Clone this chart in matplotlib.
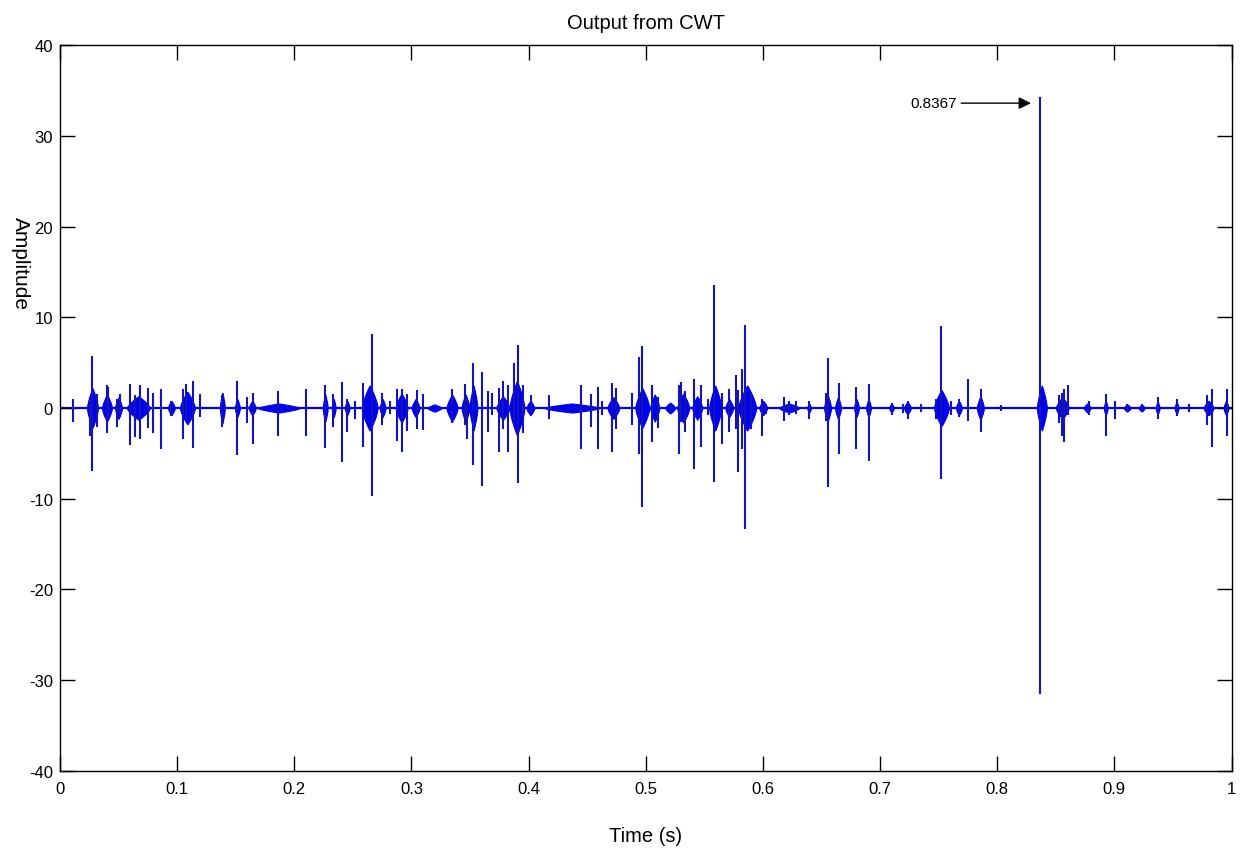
import matplotlib
matplotlib.use("Agg")
import matplotlib.pyplot as plt
import numpy as np

plt.rcParams["axes.unicode_minus"] = False

# isolated spikes of the CWT output: time (s), positive peak, negative peak
spike_t = [0.0111, 0.0256, 0.0273, 0.0315, 0.0401, 0.0409, 0.0486, 0.0512, 0.0597, 0.0639,
           0.0682, 0.0750, 0.0793, 0.0861, 0.0946, 0.1049, 0.1074, 0.1134, 0.1194, 0.1381,
           0.1509, 0.1594, 0.1645, 0.1858, 0.2097, 0.2259, 0.2327, 0.2404, 0.2447, 0.2515,
           0.2583, 0.2660, 0.2745, 0.2813, 0.2873, 0.2916, 0.2958, 0.3043, 0.3095, 0.3342,
           0.3453, 0.3478, 0.3529, 0.3598, 0.3649, 0.3683, 0.3751, 0.3785, 0.3828, 0.3879,
           0.3905, 0.3956, 0.4024, 0.4177, 0.4450, 0.4535, 0.4595, 0.4629, 0.4714, 0.4749,
           0.4885, 0.4945, 0.4970, 0.5055, 0.5107, 0.5217, 0.5286, 0.5303, 0.5337, 0.5413,
           0.5473, 0.5533, 0.5584, 0.5652, 0.5712, 0.5772, 0.5789, 0.5823, 0.5848, 0.5899,
           0.5993, 0.6029, 0.6181, 0.6223, 0.6283, 0.6394, 0.6539, 0.6556, 0.6650, 0.6794,
           0.6905, 0.7101, 0.7195, 0.7238, 0.7349, 0.7477, 0.7519, 0.7604, 0.7673, 0.7749,
           0.7860, 0.8031, 0.8367, 0.8525, 0.8551, 0.8568, 0.8602, 0.8781, 0.8926, 0.9003,
           0.9105, 0.9233, 0.9369, 0.9531, 0.9633, 0.9787, 0.9829, 0.9957]
spike_hi = [1.0, 1.2, 5.7, 1.5, 2.5, 2.3, 1.0, 1.5, 2.6, 1.4,
            2.5, 2.2, 1.7, 2.1, 0.8, 2.1, 2.6, 3.0, 1.5, 1.4,
            3.0, 1.2, 1.7, 1.9, 2.1, 2.5, 1.5, 2.9, 1.0, 0.8,
            2.8, 8.2, 1.7, 0.8, 2.1, 2.1, 1.5, 2.0, 1.5, 2.1,
            2.6, 1.0, 5.0, 4.0, 1.9, 1.7, 2.2, 3.0, 2.5, 5.0,
            6.9, 2.5, 1.4, 1.4, 2.5, 1.5, 2.3, 0.8, 2.8, 2.2,
            1.7, 5.6, 6.8, 2.5, 1.2, 0.6, 2.5, 2.9, 1.9, 3.2,
            2.5, 1.0, 13.6, 1.7, 2.1, 3.6, 2.0, 4.3, 9.2, 1.7,
            1.0, 0.4, 1.2, 0.8, 0.8, 0.8, 1.7, 5.5, 2.8, 2.3,
            2.6, 0.6, 0.4, 0.8, 0.4, 1.0, 9.0, 0.8, 1.0, 3.2,
            2.1, 0.3, 34.3, 1.4, 1.7, 2.1, 2.5, 0.8, 1.5, 0.8,
            0.4, 0.4, 1.2, 1.0, 0.4, 1.4, 2.1, 2.1]
spike_lo = [-1.5, -3.1, -6.9, -2.1, -2.7, -1.0, -2.1, -1.0, -4.1, -3.2,
            -3.4, -2.2, -2.8, -4.5, -0.9, -3.4, -1.2, -4.4, -1.0, -2.1,
            -5.2, -1.6, -4.0, -3.1, -3.1, -4.4, -2.1, -6.0, -2.6, -1.2,
            -4.3, -9.7, -1.9, -0.7, -3.6, -4.8, -2.5, -2.3, -2.4, -1.6,
            -1.9, -3.4, -6.3, -8.6, -2.6, -0.8, -4.8, -2.3, -4.8, -1.9,
            -8.3, -2.7, -0.8, -1.2, -4.5, -2.1, -4.5, -0.8, -4.9, -2.3,
            -1.9, -5.1, -10.9, -3.8, -2.2, -0.7, -5.1, -1.5, -2.6, -6.7,
            -4.3, -0.8, -8.1, -4.0, -2.6, -2.3, -7.0, -4.5, -13.3, -2.3,
            -3.1, -0.7, -1.4, -0.8, -0.7, -1.2, -1.4, -8.7, -5.1, -4.5,
            -5.8, -0.8, -0.5, -1.2, -0.4, -1.2, -7.8, -0.8, -1.0, -1.4,
            -2.6, -0.3, -31.5, -1.6, -3.1, -3.8, -0.8, -0.8, -3.1, -1.2,
            -0.4, -0.4, -1.2, -0.9, -0.4, -1.9, -4.3, -3.1]

# dense oscillation bursts: start (s), end (s), envelope amplitude
burst_start = [0.0230, 0.0358, 0.0469, 0.0571, 0.0921, 0.1023, 0.1364, 0.1492, 0.1611, 0.1688,
               0.2242, 0.2319, 0.2430, 0.2575, 0.2728, 0.2864, 0.3001, 0.3137, 0.3299, 0.3427,
               0.3495, 0.3725, 0.3836, 0.3981, 0.4135, 0.4672, 0.4910, 0.5038, 0.5166, 0.5268,
               0.5396, 0.5541, 0.5678, 0.5789, 0.5968, 0.6138, 0.6377, 0.6522, 0.6615, 0.6777,
               0.6880, 0.7076, 0.7204, 0.7460, 0.7647, 0.7826, 0.8338, 0.8500, 0.8738, 0.8909,
               0.9079, 0.9207, 0.9352, 0.9514, 0.9761, 0.9932]
burst_end = [0.0324, 0.0443, 0.0529, 0.0767, 0.0980, 0.1151, 0.1407, 0.1535, 0.1671, 0.2046,
             0.2285, 0.2353, 0.2472, 0.2711, 0.2779, 0.2967, 0.3069, 0.3257, 0.3393, 0.3495,
             0.3563, 0.3836, 0.3964, 0.4049, 0.4604, 0.4774, 0.5030, 0.5115, 0.5251, 0.5371,
             0.5482, 0.5644, 0.5746, 0.5942, 0.6036, 0.6309, 0.6411, 0.6581, 0.6667, 0.6820,
             0.6922, 0.7118, 0.7263, 0.7587, 0.7698, 0.7886, 0.8423, 0.8610, 0.8798, 0.8943,
             0.9139, 0.9258, 0.9386, 0.9548, 0.9847, 0.9974]
burst_amp = [2.2, 1.5, 1.2, 1.3, 0.8, 1.8, 1.7, 1.0, 0.8, 0.5,
             1.5, 1.0, 0.8, 2.5, 1.0, 1.6, 1.0, 0.4, 1.5, 1.5,
             2.5, 1.3, 3.0, 0.8, 0.5, 1.2, 2.2, 1.5, 0.6, 1.6,
             1.3, 2.5, 1.0, 2.5, 0.8, 0.5, 0.5, 1.5, 1.2, 1.0,
             1.0, 0.5, 0.7, 2.0, 0.8, 1.3, 2.5, 1.2, 0.5, 0.8,
             0.4, 0.4, 0.7, 0.7, 0.8, 0.8]

peak_time = 0.8367
peak_label = "0.8367"

font = ["Liberation Sans", "DejaVu Sans"]
blue = "#0000f0"

fig = plt.figure(figsize=(12.43, 8.53), dpi=100)
ax = fig.add_axes([0.0483, 0.095, 0.9425, 0.851])

ax.axhline(0, color=blue, lw=1.6, zorder=1)

# each burst: envelope peaked at its middle, filled symmetric about zero
for s, e, a in zip(burst_start, burst_end, burst_amp):
    tt = np.linspace(s, e, 60)
    u = np.abs(2 * (tt - s) / (e - s) - 1)
    env = a * (1 - u) ** 0.7
    ax.fill_between(tt, -env, env, color=blue, lw=0.8, zorder=2)

ax.vlines(spike_t, spike_lo, spike_hi, color="#1414b4", lw=1.5, zorder=3)

# mark the largest peak with its time
peak_val = max(spike_hi)
ax.annotate(peak_label, xy=(peak_time - 0.008, peak_val - 0.7),
            xytext=(peak_time - 0.071, peak_val - 0.7),
            ha="right", va="center", fontsize=11, family=font,
            arrowprops=dict(arrowstyle="-|>", color="black", lw=1.0,
                            mutation_scale=18, shrinkA=1, shrinkB=0))

ax.set_xlim(0, 1)
ax.set_ylim(-40, 40)
ax.set_xticks(np.arange(0, 1.01, 0.1))
ax.set_xticklabels(["0", "0.1", "0.2", "0.3", "0.4", "0.5", "0.6", "0.7", "0.8", "0.9", "1"])
ax.set_yticks(np.arange(-40, 41, 10))
ax.tick_params(direction="in", length=11, width=1.0, top=True, right=True,
               labelsize=12)
ax.tick_params(axis="y", pad=5)
ax.tick_params(axis="x", pad=7)
for lab in ax.get_xticklabels() + ax.get_yticklabels():
    lab.set_family(font)
for sp in ax.spines.values():
    sp.set_linewidth(1.0)

ax.set_title("Output from CWT", fontsize=14.5, family=font, pad=12)
ax.set_xlabel("Time (s)", fontsize=14.5, family=font, labelpad=22)
ax.set_ylabel("Amplitude", fontsize=15, family=font, rotation=-90)
ax.yaxis.label.set_rotation_mode("default")
ax.yaxis.label.set_va("center")
ax.yaxis.label.set_ha("center")
ax.yaxis.set_label_coords(-0.034, 0.70)

fig.savefig("out.png", dpi=100)
